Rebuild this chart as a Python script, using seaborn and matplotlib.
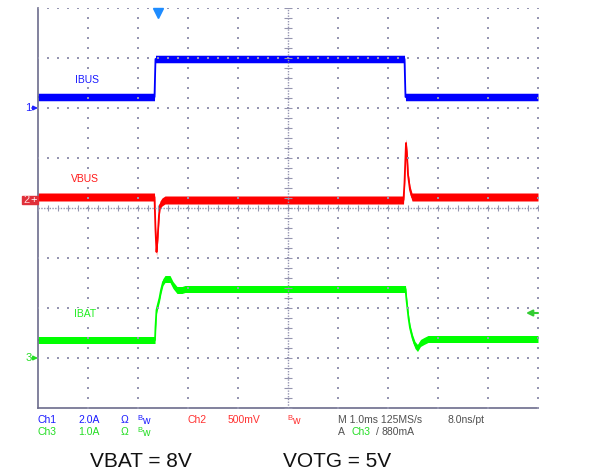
import matplotlib
matplotlib.use("Agg")
import matplotlib.pyplot as plt
from matplotlib.patches import Rectangle
import seaborn as sns
import pandas as pd
import numpy as np

# time in ms, relative to the trigger point (1.0 ms/div, 10 div across)
t_left, t_right = -2.4, 7.6

# Ch1 IBUS, amps (2.0 A/div)
ibus_t = [-2.4, -0.07, -0.05, 4.93, 4.95, 7.6]
ibus_a = [0.44, 0.44, 1.96, 1.96, 0.44, 0.44]

# Ch2 VBUS, mV from its marker (500 mV/div)
vbus_t = [-2.4, -0.07, -0.05, -0.03, -0.01, 0.02, 0.04, 0.08, 0.14,
          4.91, 4.93, 4.96, 4.98, 5.0, 5.04, 5.08, 7.6]
vbus_mv = [30, 30, -300, -520, -400, -150, -50, -20, 0,
           0, 170, 570, 450, 250, 100, 30, 30]

# Ch3 IBAT, amps (1.0 A/div)
ibat_t = [-2.4, -0.06, -0.05, -0.03, 0.03, 0.06, 0.1, 0.14, 0.24, 0.3, 0.38,
          0.48, 0.54, 4.95, 4.97, 5.01, 5.04, 5.09, 5.14, 5.19, 5.25, 5.32,
          5.4, 7.6]
ibat_a = [0.36, 0.36, 0.62, 0.96, 1.2, 1.36, 1.52, 1.58, 1.58, 1.46, 1.36,
          1.36, 1.38, 1.38, 1.16, 0.8, 0.6, 0.4, 0.26, 0.2, 0.3, 0.34,
          0.38, 0.38]

channels = [
    # name, times, values, volts(amps)/div, marker offset in div, colour, half band
    ("IBUS", ibus_t, ibus_a, 2.0, 2.0, "#0000ff", 0.075),
    ("VBUS", vbus_t, vbus_mv, 500.0, 0.16, "#ff0000", 0.08),
    ("IBAT", ibat_t, ibat_a, 1.0, -3.0, "#00ff00", 0.07),
]

sns.set_style("white")
plt.rcParams["font.family"] = ["Liberation Sans", "DejaVu Sans"]

W, H = 608, 473
fig = plt.figure(figsize=(W / 100, H / 100), dpi=100)
ax = fig.add_axes([38 / W, 65 / H, 500 / W, 400 / H])
ax.set_xlim(t_left, t_right)
ax.set_ylim(-4, 4)

grid_c = "#9595b0"

# traces: noisy band + centre line
for name, t, v, scale, off, c, hb in channels:
    df = pd.DataFrame({"t": t, "y": np.array(v) / scale + off})
    ax.fill_between(df["t"], df["y"] - hb, df["y"] + hb, color=c, lw=0, zorder=2)
    sns.lineplot(data=df, x="t", y="y", color=c, lw=1.3, sort=False,
                 estimator=None, ax=ax, zorder=2)

# dotted graticule
xs_major = np.arange(t_left + 1, t_right + 0.01, 1.0)
ys_major = np.arange(-3, 4.01, 1.0)
xs_minor = np.arange(t_left, t_right + 0.01, 0.2)
ys_minor = np.arange(-4, 4.01, 0.2)
for x in xs_major:
    if abs(x - 2.6) < 1e-6:
        continue
    ax.scatter(np.full(len(ys_minor), x), ys_minor, s=1.0, marker="s",
               color=grid_c, lw=0, zorder=3)
for y in ys_major:
    if abs(y) < 1e-6:
        continue
    ax.scatter(xs_minor, np.full(len(xs_minor), y), s=1.0, marker="s",
               color=grid_c, lw=0, zorder=3)

# centre lines with ticks
ax.axhline(0, color=grid_c, lw=1, ls=(0, (1, 1)), zorder=3)
ax.axvline(2.6, color=grid_c, lw=1, ls=(0, (1, 1)), zorder=3)
ax.scatter(xs_minor, np.zeros(len(xs_minor)), marker="|", s=16, lw=0.8,
           color=grid_c, zorder=3)
ax.scatter(np.full(len(ys_minor), 2.6), ys_minor, marker="_", s=30, lw=0.8,
           color=grid_c, zorder=3)

for s in ["top", "right"]:
    ax.spines[s].set_visible(False)
for s in ["left", "bottom"]:
    ax.spines[s].set_color("#6c6c8c")
    ax.spines[s].set_linewidth(1.2)
ax.set_xticks(xs_major)
ax.set_yticks(ys_major)
ax.set_xticks(xs_minor, minor=True)
ax.set_yticks(ys_minor, minor=True)
ax.tick_params(which="both", direction="in", length=2.5, color=grid_c,
               labelbottom=False, labelleft=False)
ax.set_xlabel("")
ax.set_ylabel("")

# trace labels
lab_kw = dict(fontsize=7.5, ha="center", va="center", zorder=6,
              bbox=dict(boxstyle="square,pad=0.05", fc="white", ec="none"))
ax.text(-1.41, 2.56, "IBUS", color="#1a1aff", **lab_kw)
ax.text(-1.47, 0.58, "VBUS", color="#ff1a1a", **lab_kw)
ax.text(-1.45, -2.12, "IBAT", color="#22ee22", **lab_kw)

# trigger position and trigger level markers
ax.plot([0.0], [3.9], marker="v", ms=7, color="#1e8cff", clip_on=False, zorder=5)
ax.annotate("", xy=(7.36, -2.1), xytext=(7.6, -2.1),
            arrowprops=dict(arrowstyle="-|>", color="#33cc33", lw=1.5,
                            mutation_scale=9, shrinkA=0, shrinkB=0),
            annotation_clip=False)

# channel ground markers on the left
for label, off, c in [("1", 2.0, "#2020ff"), ("3", -3.0, "#22dd22")]:
    ax.text(-2.59, off, label, color=c, fontsize=8, ha="center", va="center",
            clip_on=False)
    ax.annotate("", xy=(-2.4, off), xytext=(-2.52, off),
                arrowprops=dict(arrowstyle="-|>", color=c, lw=1.2,
                                mutation_scale=6, shrinkA=0, shrinkB=0),
                annotation_clip=False)
ax.add_patch(Rectangle((-2.72, 0.08), 0.32, 0.16, color="#e0303a",
                       clip_on=False, zorder=5))
ax.text(-2.62, 0.16, "2", color="#ffd8d8", fontsize=8, ha="center",
        va="center", clip_on=False, zorder=6)
ax.text(-2.49, 0.16, "+", color="white", fontsize=8, ha="center",
        va="center", clip_on=False, zorder=6)


def ftext(x, y, s, c, size=7.5, **kw):
    fig.text(x / W, 1 - y / H, s, color=c, fontsize=size, va="center", **kw)


blue, red, green, grey = "#1a1aff", "#ff3030", "#22dd22", "#505050"
ftext(38, 420, "Ch1", blue)
ftext(78, 420, "2.0A", blue)
ftext(121, 420, "Ω", blue)
ftext(137, 418, "B", blue, size=5.5)
ftext(142, 421, "w", blue)
ftext(188, 420, "Ch2", red)
ftext(228, 420, "500mV", red)
ftext(287, 418, "B", red, size=5.5)
ftext(292, 421, "w", red)
ftext(338, 420, "M 1.0ms 125MS/s", grey)
ftext(448, 420, "8.0ns/pt", grey)
ftext(38, 432, "Ch3", green)
ftext(78, 432, "1.0A", green)
ftext(121, 432, "Ω", green)
ftext(137, 430, "B", green, size=5.5)
ftext(142, 433, "w", green)
ftext(338, 432, "A", grey)
ftext(351, 432, "Ch3", green)
ftext(376, 432, "/", grey)
ftext(382, 432, "880mA", grey)

ftext(90, 461, "VBAT = 8V", "#111111", size=15)
ftext(283, 461, "VOTG = 5V", "#111111", size=15)

fig.savefig("out.png", dpi=100)
plt.close(fig)
